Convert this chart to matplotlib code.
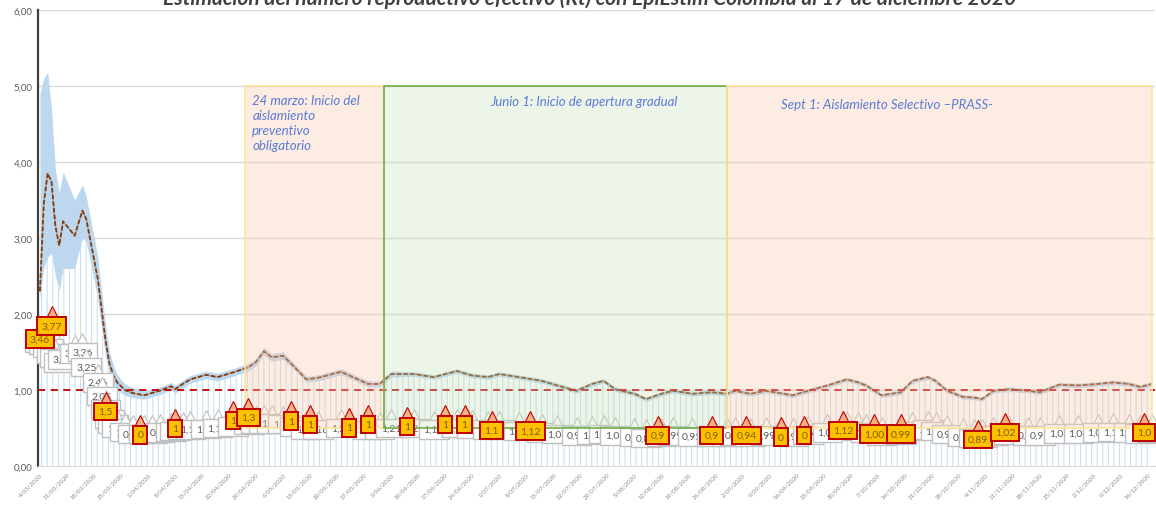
import numpy as np
import pandas as pd
import matplotlib
matplotlib.use("Agg")
import matplotlib.pyplot as plt
import matplotlib.dates as mdates
from matplotlib.patches import Rectangle

plt.rcParams['font.family'] = ['Lato', 'DejaVu Sans']
plt.rcParams['hatch.linewidth'] = 0.7

# dias desde el 4/03/2020
dias = [0, 1, 2, 3, 4, 5, 6, 9, 11, 12, 15, 16, 17, 18, 19, 20, 22, 24, 27, 29,
        31, 34, 35, 37, 39, 43, 46, 50, 54, 56, 58, 60, 63, 66, 69, 72, 78, 85, 88, 91,
        97, 102, 108, 112, 116, 119, 124, 130, 134, 139, 143, 146, 149, 154, 157, 161, 164, 169, 174, 178,
        180, 184, 188, 195, 199, 204, 209, 212, 214, 218, 223, 226, 230, 232, 235, 239, 242, 244, 247, 251,
        256, 259, 264, 269, 274, 278, 282, 285, 288]

rt = [2.30, 3.45, 3.85, 3.74, 3.16, 2.90, 3.22, 3.03, 3.36, 3.25, 2.46, 2.05, 1.65, 1.35, 1.20, 1.10, 1.00, 0.96, 0.93, 0.96,
      0.99, 1.05, 1.01, 1.08, 1.14, 1.20, 1.17, 1.23, 1.30, 1.37, 1.51, 1.43, 1.45, 1.30, 1.14, 1.16, 1.24, 1.08, 1.08, 1.21,
      1.21, 1.17, 1.25, 1.19, 1.17, 1.21, 1.17, 1.12, 1.06, 0.99, 1.08, 1.12, 1.01, 0.95, 0.88, 0.95, 0.99, 0.95, 0.97, 0.95,
      0.99, 0.95, 0.99, 0.93, 0.99, 1.06, 1.14, 1.10, 1.06, 0.93, 0.97, 1.12, 1.17, 1.12, 0.99, 0.91, 0.90, 0.88, 0.99, 1.01,
      0.99, 0.97, 1.07, 1.06, 1.08, 1.10, 1.08, 1.04, 1.08]

ic_inf = [2.20, 2.60, 2.75, 2.80, 2.50, 2.30, 2.60, 2.60, 3.00, 2.95, 2.20, 1.80, 1.45, 1.20, 1.08, 1.00, 0.93, 0.90, 0.88, 0.91,
          0.94, 1.00, 0.96, 1.03, 1.09, 1.15, 1.12, 1.18, 1.25, 1.32, 1.46, 1.38, 1.40, 1.26, 1.10, 1.12, 1.20, 1.04, 1.04, 1.17,
          1.18, 1.14, 1.22, 1.16, 1.14, 1.18, 1.14, 1.09, 1.03, 0.96, 1.05, 1.09, 0.98, 0.92, 0.85, 0.92, 0.96, 0.92, 0.94, 0.92,
          0.96, 0.92, 0.96, 0.90, 0.96, 1.03, 1.11, 1.07, 1.03, 0.90, 0.94, 1.09, 1.14, 1.09, 0.96, 0.88, 0.87, 0.85, 0.96, 0.98,
          0.96, 0.94, 1.04, 1.03, 1.05, 1.07, 1.05, 1.01, 1.05]

ic_sup = [4.90, 5.10, 5.18, 4.70, 3.90, 3.60, 3.87, 3.50, 3.70, 3.55, 2.75, 2.30, 1.85, 1.50, 1.33, 1.20, 1.08, 1.03, 0.99, 1.01,
          1.04, 1.10, 1.06, 1.13, 1.19, 1.25, 1.22, 1.28, 1.35, 1.42, 1.56, 1.48, 1.50, 1.34, 1.18, 1.20, 1.28, 1.12, 1.12, 1.25,
          1.24, 1.20, 1.28, 1.22, 1.20, 1.24, 1.20, 1.15, 1.09, 1.02, 1.11, 1.15, 1.04, 0.98, 0.91, 0.98, 1.02, 0.98, 1.00, 0.98,
          1.02, 0.98, 1.02, 0.96, 1.02, 1.09, 1.17, 1.13, 1.09, 0.96, 1.00, 1.15, 1.20, 1.15, 1.02, 0.94, 0.93, 0.91, 1.02, 1.04,
          1.02, 1.00, 1.10, 1.09, 1.11, 1.13, 1.11, 1.07, 1.11]

# altura de las etiquetas grises (cajas de llamada)
etiqueta_y = [1.62, 1.60, 1.55, 1.48, 1.42, 1.36, 1.40, 1.48, 1.50, 1.30, 1.10, 0.92, 0.75, 0.62, 0.55, 0.50, 0.45, 0.42, 0.42, 0.43,
              0.44, 0.45, 0.46, 0.47, 0.48, 0.49, 0.50, 0.52, 0.54, 0.55, 0.56, 0.56, 0.55, 0.52, 0.48, 0.48, 0.50, 0.47, 0.47, 0.50,
              0.50, 0.48, 0.50, 0.49, 0.48, 0.48, 0.46, 0.44, 0.42, 0.40, 0.41, 0.42, 0.40, 0.38, 0.37, 0.38, 0.40, 0.39, 0.39, 0.39,
              0.40, 0.39, 0.40, 0.39, 0.41, 0.44, 0.47, 0.46, 0.44, 0.40, 0.41, 0.46, 0.48, 0.46, 0.42, 0.38, 0.37, 0.37, 0.40, 0.41,
              0.40, 0.40, 0.43, 0.43, 0.44, 0.45, 0.44, 0.43, 0.44]

# etiquetas resaltadas (amarillas)
amarillo_dias = [0, 3, 17, 26, 35, 50, 54, 65, 70, 80, 85, 95, 105, 110, 117, 127, 160, 174, 183, 192, 198, 208, 216, 223, 243, 250, 286]
amarillo_y = [1.67, 1.84, 0.72, 0.41, 0.49, 0.60, 0.64, 0.59, 0.55, 0.50, 0.55, 0.52, 0.55, 0.55, 0.47, 0.46, 0.40, 0.40, 0.40, 0.38,
              0.40, 0.47, 0.42, 0.42, 0.35, 0.44, 0.44]
amarillo_txt = ['3,46', '3,77', '1,5', '0', '1', '1', '1,3', '1', '1', '1', '1', '1', '1', '1', '1,1', '1,12', '0,9', '0,9', '0,94',
                '0', '0', '1,12', '1,00', '0,99', '0,89', '1,02', '1,0']

# recuadros de las fases
fases_inicio = ['2020-04-26', '2020-06-01', '2020-08-29']
fases_fin = ['2020-06-01', '2020-08-29', '2020-12-17']
fases_txt = ['24 marzo: Inicio del\naislamiento\npreventivo\nobligatorio',
             'Junio 1: Inicio de apertura gradual',
             'Sept 1: Aislamiento Selectivo \u2013PRASS-']

inicio = pd.Timestamp('2020-03-04')
fechas = inicio + pd.to_timedelta(dias, unit='D')
x = mdates.date2num(fechas)

fig = plt.figure(figsize=(11.56, 5.06), dpi=100)
ax = fig.add_axes([38 / 1156, 39 / 506, 1117 / 1156, 456 / 506])

ax.set_ylim(0, 6)
ax.set_xlim(mdates.date2num(inicio - pd.Timedelta(hours=12)), mdates.date2num(pd.Timestamp('2020-12-17') + pd.Timedelta(hours=20)))
ax.set_yticks(np.arange(0, 7, 1))
ax.set_yticklabels([f"{v:.2f}".replace('.', ',') for v in range(7)], fontsize=7, color='#595959')
ax.yaxis.grid(True, color='#D9D9D9', lw=1, zorder=0)
ax.set_axisbelow(True)
ax.tick_params(axis='both', length=0, pad=4)
for s in ['top', 'right']:
    ax.spines[s].set_visible(False)
ax.spines['left'].set_color('#404040')
ax.spines['left'].set_linewidth(1.6)
ax.spines['bottom'].set_color('#D9D9D9')

semanas = pd.date_range('2020-03-04', '2020-12-16', freq='7D')
ax.set_xticks(mdates.date2num(semanas))
ax.set_xticklabels([f"{d.day}/{d.month:02d}/{d.year}" for d in semanas], rotation=45, ha='right',
                   rotation_mode='anchor', fontsize=4.5, color='#8C8C8C')

# patron azul bajo el limite inferior
ax.fill_between(x, 0, ic_inf, facecolor='white', edgecolor='#C5DCF0', hatch='|||', lw=0, zorder=1)
# intervalo de confianza
ax.fill_between(x, ic_inf, ic_sup, color='#BDD7EE', lw=0, zorder=2)
# Rt
ax.plot(x, rt, color='#A6A6A6', lw=1.0, zorder=3)
ax.plot(x, rt, color='#843C0C', lw=1.3, ls=(0, (2.5, 1.2)), zorder=3)
ax.axhline(1.0, color='#C00000', lw=1.3, ls=(0, (4, 3)), zorder=3)

# etiquetas grises (cada una tapa en parte a la anterior)
for i, (xi, yi, v) in enumerate(zip(x, etiqueta_y, rt)):
    z = 4 + i * 0.001
    ax.plot(xi, yi + 0.18, marker='^', ms=7, mfc='white', mec='#BFBFBF', mew=0.8, zorder=z)
    ax.text(xi, yi, f"{v:.2f}".replace('.', ','), fontsize=7.5, color='#595959', ha='center', va='center',
            bbox=dict(boxstyle='square,pad=0.45', fc='white', ec='#BFBFBF', lw=1.0), zorder=z)

# recuadros de fases
colores = [('#F8CBAD', '#FFE699', 0.35), ('#C5E0B4', '#70AD47', 0.3), ('#F8CBAD', '#FFE699', 0.35)]
for a, b, (fc, ec, al) in zip(fases_inicio, fases_fin, colores):
    x0 = mdates.date2num(pd.Timestamp(a))
    x1 = mdates.date2num(pd.Timestamp(b))
    ax.add_patch(Rectangle((x0, 0.5), x1 - x0, 4.5, facecolor=fc, alpha=al, lw=0, zorder=5))
    ax.add_patch(Rectangle((x0, 0.5), x1 - x0, 4.5, facecolor='none', edgecolor=ec, lw=1.2, zorder=5))

tx0 = mdates.date2num(pd.Timestamp(fases_inicio[0]))
ax.text(tx0 + 2, 4.9, fases_txt[0], fontsize=9.5, style='italic', color='#5B7BD5', va='top', ha='left',
        linespacing=1.3, zorder=7)
ax.text(mdates.date2num(pd.Timestamp('2020-07-23')), 4.8, fases_txt[1], fontsize=9.5, style='italic',
        color='#5B7BD5', va='center', ha='center', zorder=7)
ax.text(mdates.date2num(pd.Timestamp('2020-09-12')), 4.76, fases_txt[2], fontsize=9.5, style='italic',
        color='#5B7BD5', va='center', ha='left', zorder=7)

# etiquetas amarillas
xa = mdates.date2num(inicio + pd.to_timedelta(amarillo_dias, unit='D'))
for xi, yi, t in zip(xa, amarillo_y, amarillo_txt):
    ax.plot(xi, yi + 0.18, marker='^', ms=8, mfc='#F4B183', mec='#C00000', mew=0.8, zorder=6)
    ax.text(xi, yi, t, fontsize=7.5, color='#7F6000', ha='center', va='center',
            bbox=dict(boxstyle='square,pad=0.4', fc='#FFC000', ec='#C00000', lw=1.4), zorder=6)

fig.text(0.51, 1.003, 'Estimación del número reproductivo efectivo (Rt) con EpiEstim Colombia al 17 de diciembre 2020',
         fontsize=15, fontweight='bold', style='italic', color='#404040', ha='center', va='center')

fig.savefig('out.png', dpi=100)
